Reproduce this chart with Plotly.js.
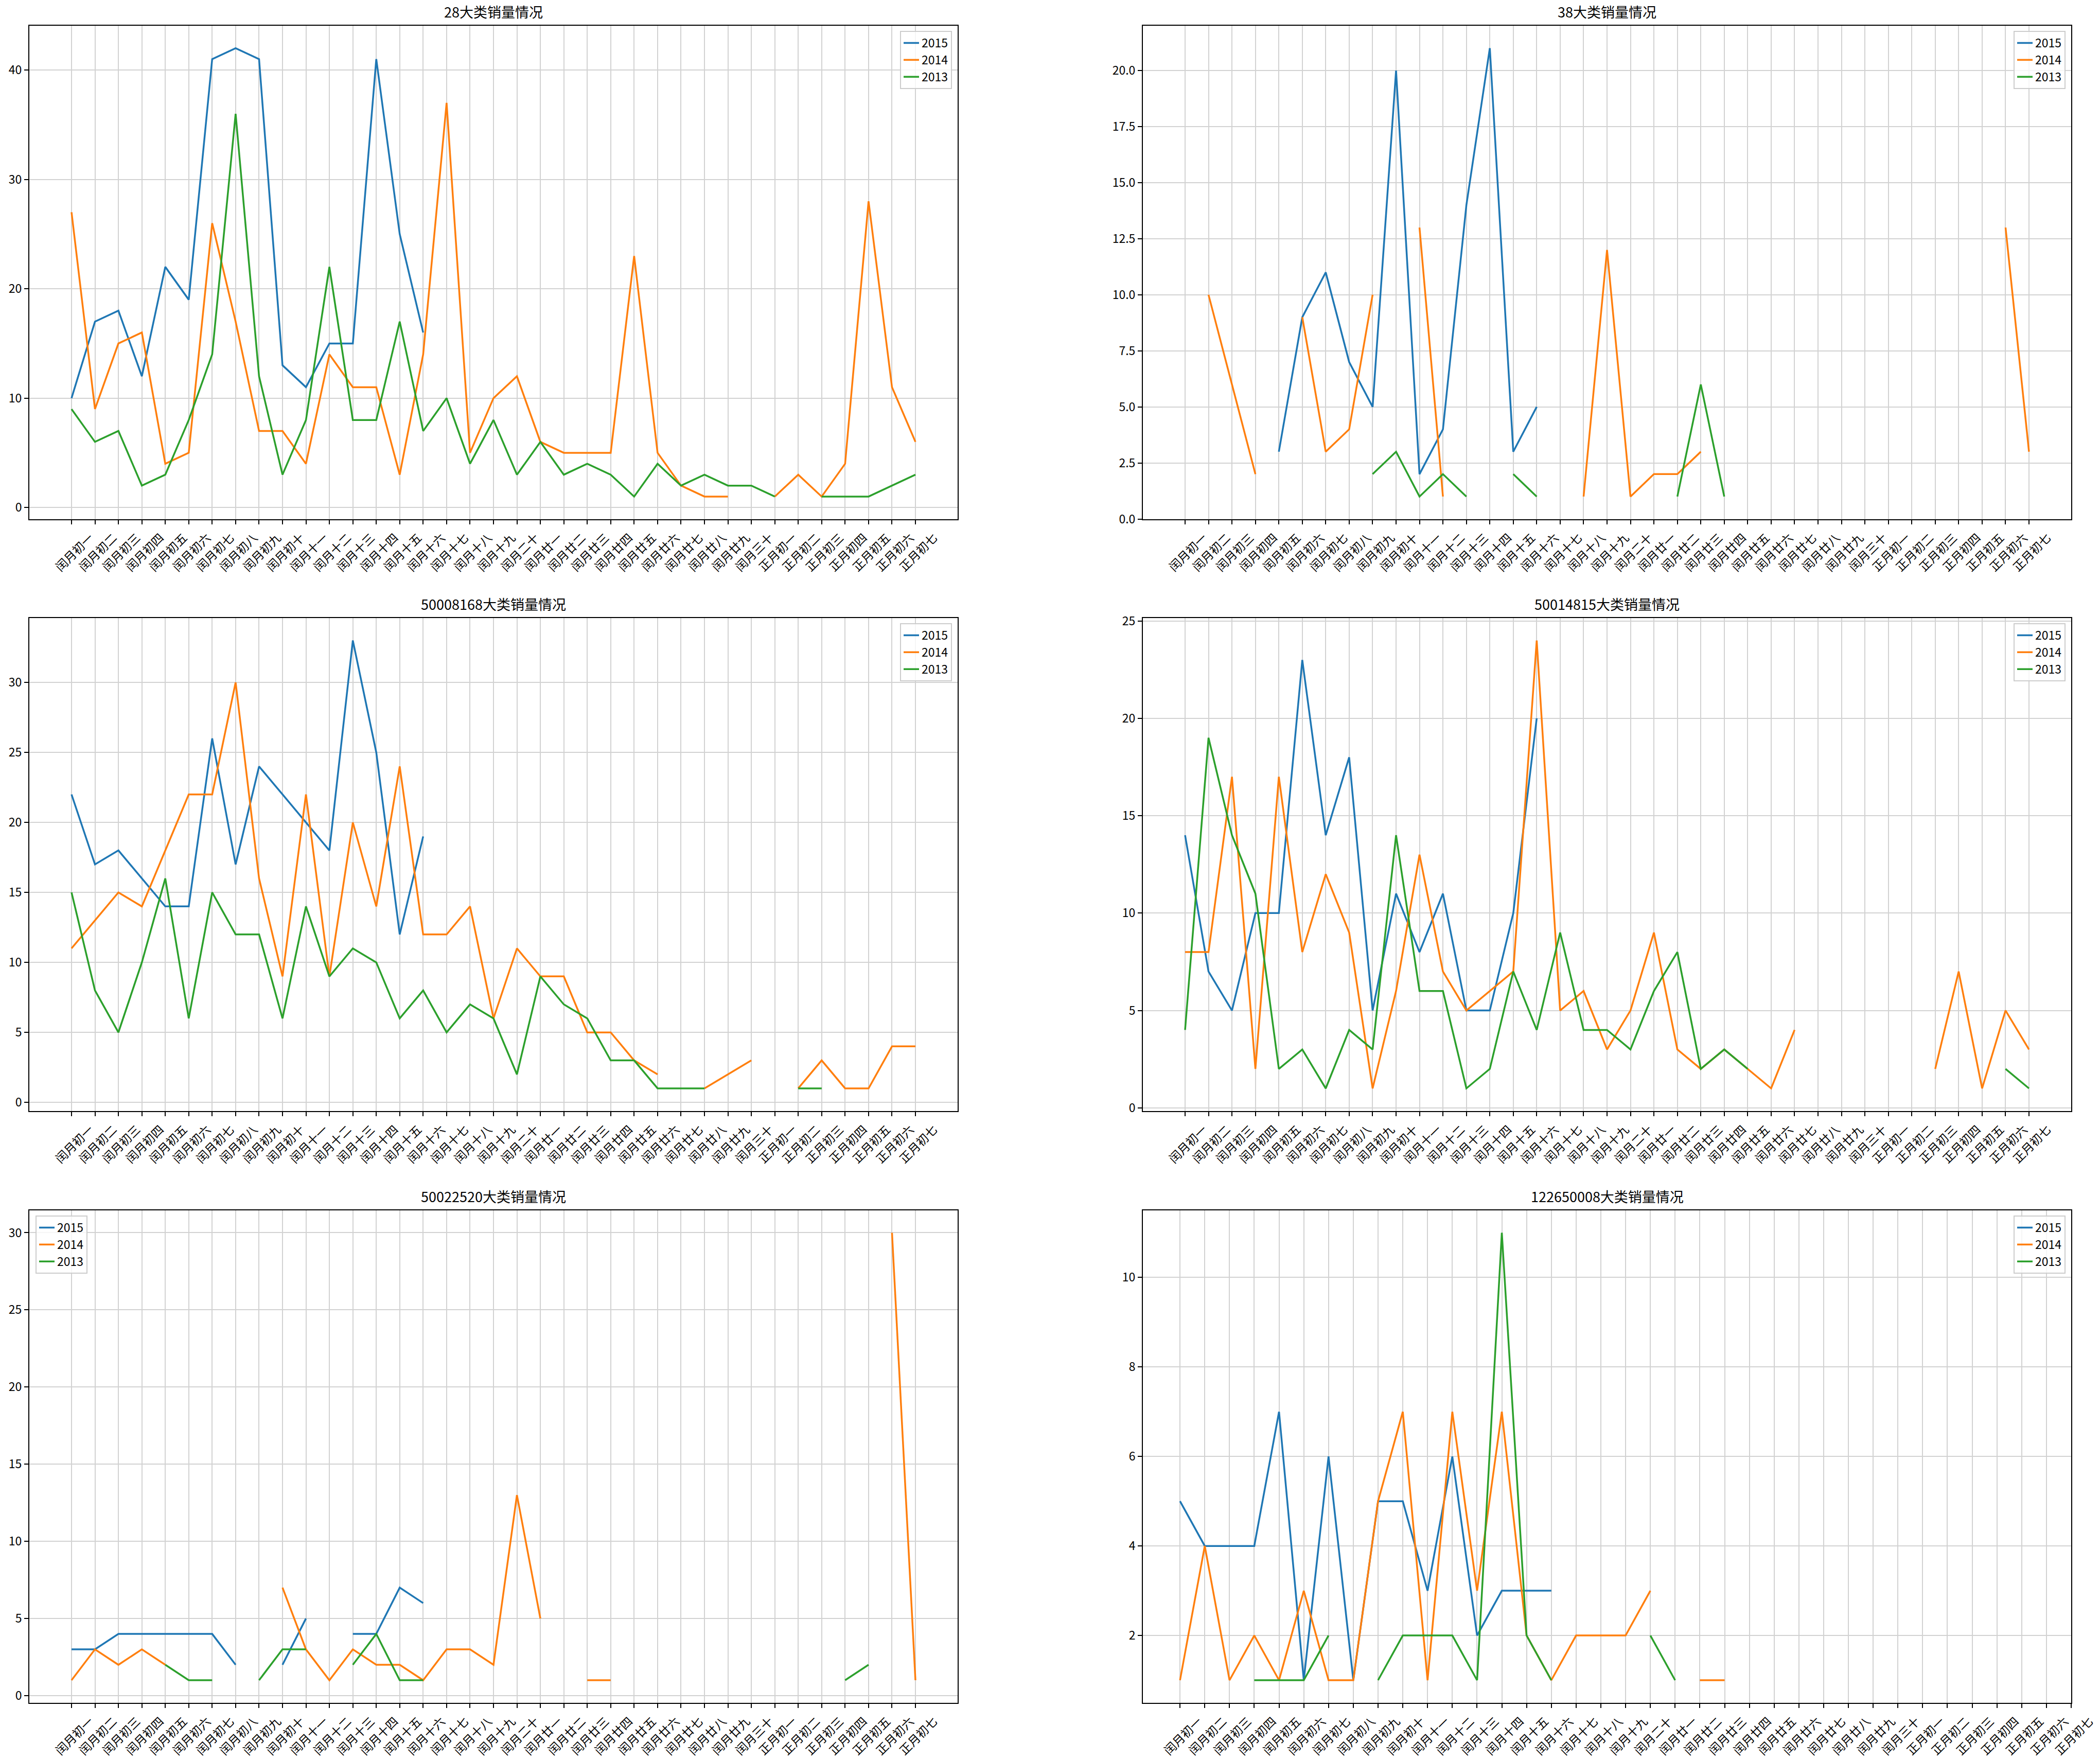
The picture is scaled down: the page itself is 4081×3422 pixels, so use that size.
<!DOCTYPE html>
<html><head><meta charset="utf-8">
<script src="https://cdn.plot.ly/plotly-3.0.1.min.js"></script>
<style>html,body{margin:0;padding:0;background:#fff}</style>
</head><body><div id="chart" style="width:4081px;height:3422px"></div>
<script>
const N = null;
const dates = ['闰月初一','闰月初二','闰月初三','闰月初四','闰月初五','闰月初六','闰月初七','闰月初八','闰月初九','闰月初十',
  '闰月十一','闰月十二','闰月十三','闰月十四','闰月十五','闰月十六','闰月十七','闰月十八','闰月十九','闰月二十',
  '闰月廿一','闰月廿二','闰月廿三','闰月廿四','闰月廿五','闰月廿六','闰月廿七','闰月廿八','闰月廿九','闰月三十',
  '正月初一','正月初二','正月初三','正月初四','正月初五','正月初六','正月初七'];
const years = ['2015','2014','2013'];
const titles = ['28大类销量情况','38大类销量情况','50008168大类销量情况','50014815大类销量情况','50022520大类销量情况','122650008大类销量情况'];

// 28大类
const c28_2015 = [10,17,18,12,22,19,41,42,41,13,11,15,15,41,25,16,N,N,N,N,N,N,N,N,N,N,N,N,N,N,N,N,N,N,N,N,N];
const c28_2014 = [27,9,15,16,4,5,26,17,7,7,4,14,11,11,3,14,37,5,10,12,6,5,5,5,23,5,2,1,1,N,1,3,1,4,28,11,6];
const c28_2013 = [9,6,7,2,3,8,14,36,12,3,8,22,8,8,17,7,10,4,8,3,6,3,4,3,1,4,2,3,2,2,1,N,1,1,1,2,3];
// 38大类
const c38_2015 = [N,N,N,N,3,9,11,7,5,20,2,4,14,21,3,5,N,N,N,N,N,N,N,N,N,N,N,N,N,N,N,N,N,N,N,N,N];
const c38_2014 = [N,10,6,2,N,9,3,4,10,N,13,1,N,N,N,N,N,1,12,1,2,2,3,N,N,N,N,N,N,N,N,N,N,N,N,13,3];
const c38_2013 = [N,N,N,N,N,N,N,N,2,3,1,2,1,N,2,1,N,N,N,N,N,1,6,1,N,N,N,N,N,N,N,N,N,N,N,N,N];
// 50008168大类
const c68_2015 = [22,17,18,16,14,14,26,17,24,22,20,18,33,25,12,19,N,N,N,N,N,N,N,N,N,N,N,N,N,N,N,N,N,N,N,N,N];
const c68_2014 = [11,13,15,14,18,22,22,30,16,9,22,9,20,14,24,12,12,14,6,11,9,9,5,5,3,2,N,1,2,3,N,1,3,1,1,4,4];
const c68_2013 = [15,8,5,10,16,6,15,12,12,6,14,9,11,10,6,8,5,7,6,2,9,7,6,3,3,1,1,1,N,N,N,1,1,N,N,N,N];
// 50014815大类
const c15_2015 = [14,7,5,10,10,23,14,18,5,11,8,11,5,5,10,20,N,N,N,N,N,N,N,N,N,N,N,N,N,N,N,N,N,N,N,N,N];
const c15_2014 = [8,8,17,2,17,8,12,9,1,6,13,7,5,6,7,24,5,6,3,5,9,3,2,3,2,1,4,N,N,N,N,N,2,7,1,5,3];
const c15_2013 = [4,19,14,11,2,3,1,4,3,14,6,6,1,2,7,4,9,4,4,3,6,8,2,3,2,N,N,N,N,N,N,N,N,N,N,2,1];
// 50022520大类
const c20_2015 = [3,3,4,4,4,4,4,2,N,2,5,N,4,4,7,6,N,N,N,N,N,N,N,N,N,N,N,N,N,N,N,N,N,N,N,N,N];
const c20_2014 = [1,3,2,3,2,N,N,N,N,7,3,1,3,2,2,1,3,3,2,13,5,N,1,1,N,N,N,N,N,N,N,N,N,N,N,30,1];
const c20_2013 = [N,N,N,N,2,1,1,N,1,3,3,N,2,4,1,1,N,N,N,N,N,N,N,N,N,N,N,N,N,N,N,N,N,1,2,N,N];
// 122650008大类
const c08_2015 = [5,4,4,4,7,1,6,1,5,5,3,6,2,3,3,3,N,N,N,N,N,N,N,N,N,N,N,N,N,N,N,N,N,N,N,N,N];
const c08_2014 = [1,4,1,2,1,3,1,1,5,7,1,7,3,7,2,1,2,2,2,3,N,1,1,N,N,N,N,N,N,N,N,N,N,N,N,N,N];
const c08_2013 = [N,N,N,1,1,1,2,N,1,2,2,2,1,11,2,1,N,N,N,2,1,N,N,N,N,N,N,N,N,N,N,N,N,N,N,N,N];

const seriesSets = [
  [c28_2015,c28_2014,c28_2013],
  [c38_2015,c38_2014,c38_2013],
  [c68_2015,c68_2014,c68_2013],
  [c15_2015,c15_2014,c15_2013],
  [c20_2015,c20_2014,c20_2013],
  [c08_2015,c08_2014,c08_2013]
];
const colors = ['#1f77b4','#ff7f0e','#2ca02c'];

// layout geometry (pixels)
const W = 4081, H = 3422;
const colX = [[57,1861],[2221,4025]];
const rowY = [[50,1008.5],[1201,2158.5],[2352,3308.5]];
const xRanges = [[-1.8,37.8],[-1.8,37.8],[-1.8,37.8],[-1.8,37.8],[-1.8,37.8],[-1.5,36]];
const yRanges = [[-1.05,44.05],[0,22],[-0.6,34.6],[-0.15,25.15],[-0.45,31.45],[0.5,11.5]];
const yDticks = [10,2.5,5,5,5,2];
const yTick0 = [0,0,0,0,0,0];
const yFormats = ['d','.1f','d','d','d','d'];
const legendLeft = [false,false,false,false,true,false];

const FONT = '"Noto Sans CJK SC", "Noto Sans", sans-serif';
const traces = [];
const layout = {
  width: W, height: H,
  margin: {l:0,r:0,t:0,b:0},
  paper_bgcolor: '#ffffff', plot_bgcolor: '#ffffff',
  font: {family: FONT, size: 23, color: '#000'},
  showlegend: true,
  annotations: []
};

for (let k = 0; k < 6; k++) {
  const col = k % 2, row = Math.floor(k / 2);
  const sfx = k === 0 ? '' : String(k + 1);
  const xd = [colX[col][0] / W, colX[col][1] / W];
  const yd = [1 - rowY[row][1] / H, 1 - rowY[row][0] / H];
  const legName = k === 0 ? 'legend' : 'legend' + (k + 1);
  seriesSets[k].forEach((vals, i) => {
    traces.push({
      type: 'scatter', mode: 'lines',
      x: dates, y: vals, name: years[i],
      xaxis: 'x' + sfx, yaxis: 'y' + sfx,
      line: {color: colors[i], width: 3.5},
      connectgaps: false,
      legend: legName,
      hoverinfo: 'skip'
    });
  });
  layout['xaxis' + sfx] = {
    domain: xd, anchor: 'y' + sfx,
    type: 'category', categoryorder: 'array', categoryarray: dates,
    range: xRanges[k],
    tickmode: 'array', tickvals: dates, ticktext: dates,
    tickangle: -45, tickfont: {family: FONT, size: 23, color: '#000'},
    ticklabelshift: 36, ticklabelstandoff: 4,
    ticks: 'outside', ticklen: 8, tickwidth: 2, tickcolor: '#000',
    showgrid: true, gridcolor: '#d2d2d2', gridwidth: 2,
    showline: true, linecolor: '#000', linewidth: 2, mirror: true,
    zeroline: false, fixedrange: true
  };
  layout['yaxis' + sfx] = {
    domain: yd, anchor: 'x' + sfx,
    range: yRanges[k], tick0: yTick0[k], dtick: yDticks[k], tickformat: yFormats[k],
    tickfont: {family: FONT, size: 23, color: '#000'},
    ticks: 'outside', ticklen: 8, tickwidth: 2, tickcolor: '#000',
    showgrid: true, gridcolor: '#d2d2d2', gridwidth: 2,
    showline: true, linecolor: '#000', linewidth: 2, mirror: true,
    zeroline: false, fixedrange: true
  };
  layout[legName] = {
    x: legendLeft[k] ? xd[0] + 12 / W : xd[1] - 11 / W,
    xanchor: legendLeft[k] ? 'left' : 'right',
    y: yd[1] - 10 / H, yanchor: 'top',
    bgcolor: 'rgba(255,255,255,0.8)', bordercolor: '#cccccc', borderwidth: 2,
    font: {family: FONT, size: 23, color: '#000'},
    itemwidth: 30
  };
  layout.annotations.push({
    text: titles[k], xref: 'paper', yref: 'paper',
    x: (xd[0] + xd[1]) / 2, y: yd[1], xanchor: 'center', yanchor: 'bottom',
    yshift: 6, showarrow: false,
    font: {family: FONT, size: 27, color: '#000'}
  });
}

Plotly.newPlot('chart', traces, layout, {staticPlot: true, displayModeBar: false});
</script>
</body></html>
